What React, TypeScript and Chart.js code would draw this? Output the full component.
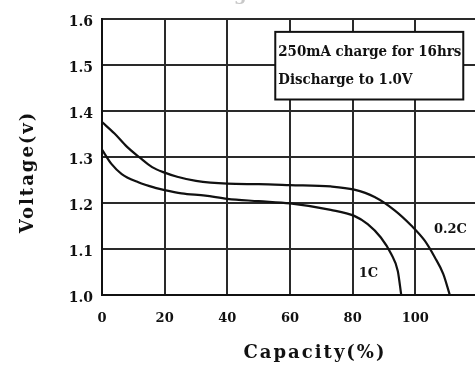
import React, { useEffect, useRef } from 'react';
import { Chart, registerables } from 'chart.js';

Chart.register(...registerables);

// ---- data ----
const capacity02 = [0, 4, 8, 12, 16, 20, 24, 30, 40, 50, 60, 73, 80.5, 87, 93.4, 98.7, 103, 106.2, 108.9, 111];
const voltage02 = [1.376, 1.351, 1.322, 1.299, 1.278, 1.266, 1.257, 1.248, 1.242, 1.241, 1.239, 1.236, 1.229, 1.213, 1.184, 1.151, 1.118, 1.082, 1.046, 1.0];
const capacity1C = [0, 3, 6.3, 11.6, 17, 20, 25.4, 33, 40, 50, 60, 73, 80.5, 84.8, 89, 92.3, 94.4, 95.5];
const voltage1C = [1.316, 1.285, 1.263, 1.245, 1.233, 1.228, 1.221, 1.216, 1.209, 1.204, 1.199, 1.185, 1.172, 1.154, 1.125, 1.089, 1.052, 1.0];
const seriesNames = ['0.2C', '1C'];
const xTickMax = 100;
const noteLines = ['250mA charge for 16hrs', 'Discharge to 1.0V'];
const chartTitle = 'Discharge Characteristics';
const xTitle = 'Capacity(%)';
const yTitle = 'Voltage(v)';

// annotation placement in data units
const noteBox = { x0: 55.3, x1: 115.3, y0: 1.572, y1: 1.425 };
const labelPos = [
  { x: 111.2, y: 1.142 },
  { x: 85, y: 1.046 },
];

const SERIF = "'DejaVu Serif', 'Liberation Serif', serif";

export default function App() {
  const ref = useRef<HTMLCanvasElement>(null);
  useEffect(() => {
    const canvas = ref.current!;
    const overlay = {
      id: 'overlay',
      afterDraw(chart: any) {
        const ctx = chart.ctx as CanvasRenderingContext2D;
        const xs = chart.scales.x;
        const ys = chart.scales.y;
        ctx.save();
        // note box
        const bx0 = xs.getPixelForValue(noteBox.x0);
        const bx1 = xs.getPixelForValue(noteBox.x1);
        const by0 = ys.getPixelForValue(noteBox.y0);
        const by1 = ys.getPixelForValue(noteBox.y1);
        ctx.fillStyle = '#fff';
        ctx.fillRect(bx0, by0, bx1 - bx0, by1 - by0);
        ctx.strokeStyle = '#111';
        ctx.lineWidth = 2;
        ctx.strokeRect(bx0, by0, bx1 - bx0, by1 - by0);
        ctx.fillStyle = '#111';
        ctx.textBaseline = 'middle';
        ctx.textAlign = 'left';
        ctx.font = `bold 15px ${SERIF}`;
        const avail = bx1 - bx0 - 5;
        const sx = avail / ctx.measureText(noteLines[0]).width;
        const h = by1 - by0;
        const fracs = [0.3, 0.72];
        noteLines.forEach((t, i) => {
          ctx.save();
          ctx.translate(bx0 + 3, by0 + h * fracs[i]);
          ctx.scale(sx, 1);
          ctx.fillText(t, 0, 0);
          ctx.restore();
        });
        // curve labels
        ctx.font = `bold 13px ${SERIF}`;
        ctx.textAlign = 'center';
        seriesNames.forEach((n, i) => {
          ctx.fillText(n, xs.getPixelForValue(labelPos[i].x), ys.getPixelForValue(labelPos[i].y));
        });
        // axis titles
        ctx.font = `bold 18px ${SERIF}`;
        ctx.textAlign = 'center';
        ctx.textBaseline = 'middle';
        (ctx as any).letterSpacing = '2px';
        ctx.fillText(xTitle, 315, 353);
        ctx.save();
        ctx.translate(28, 172);
        ctx.rotate(-Math.PI / 2);
        ctx.fillText(yTitle, 0, 0);
        ctx.restore();
        // clipped top title
        (ctx as any).letterSpacing = '0px';
        ctx.fillStyle = '#c8c8c8';
        ctx.textBaseline = 'alphabetic';
        ctx.fillText(chartTitle, 287, 0);
        ctx.restore();
      },
    };
    const chart = new Chart(canvas, {
      type: 'line',
      data: {
        datasets: [
          {
            label: seriesNames[0],
            data: capacity02.map((c, i) => ({ x: c, y: voltage02[i] })),
            borderColor: '#111',
            borderWidth: 2.2,
            pointRadius: 0,
            cubicInterpolationMode: 'monotone',
            fill: false,
          },
          {
            label: seriesNames[1],
            data: capacity1C.map((c, i) => ({ x: c, y: voltage1C[i] })),
            borderColor: '#111',
            borderWidth: 2.2,
            pointRadius: 0,
            cubicInterpolationMode: 'monotone',
            fill: false,
          },
        ],
      },
      options: {
        responsive: false,
        animation: false,
        devicePixelRatio: 1,
        layout: { padding: { top: 19, left: 0, right: 22, bottom: 0 } },
        plugins: { legend: { display: false }, tooltip: { enabled: false }, title: { display: false } },
        scales: {
          x: {
            type: 'linear',
            min: 0,
            max: 120,
            afterFit: (s: any) => { s.height = 74; },
            ticks: {
              stepSize: 20,
              padding: 16,
              color: '#111',
              font: { family: SERIF, size: 13, weight: 'bold' },
              callback: (v: any) => (v <= xTickMax ? String(v) : ''),
              maxRotation: 0,
            },
            grid: { color: '#2a2a2a', lineWidth: 2, drawTicks: false },
            border: { color: '#111', width: 2 },
          },
          y: {
            type: 'linear',
            min: 1.0,
            max: 1.6,
            afterFit: (s: any) => { s.width = 102; },
            ticks: {
              stepSize: 0.1,
              padding: 9,
              labelOffset: 3,
              color: '#111',
              font: { family: SERIF, size: 14, weight: 'bold' },
              callback: (v: any) => Number(v).toFixed(1),
            },
            grid: { color: '#2a2a2a', lineWidth: 2, drawTicks: false },
            border: { color: '#111', width: 2 },
          },
        },
      },
      plugins: [overlay],
    } as any);
    return () => chart.destroy();
  }, []);
  return (
    <div style={{ position: 'absolute', left: 0, top: 0, width: 475, height: 369, overflow: 'hidden', background: '#fff' }}>
      <canvas ref={ref} width={500} height={369} style={{ width: 500, height: 369, display: 'block' }} />
    </div>
  );
}
